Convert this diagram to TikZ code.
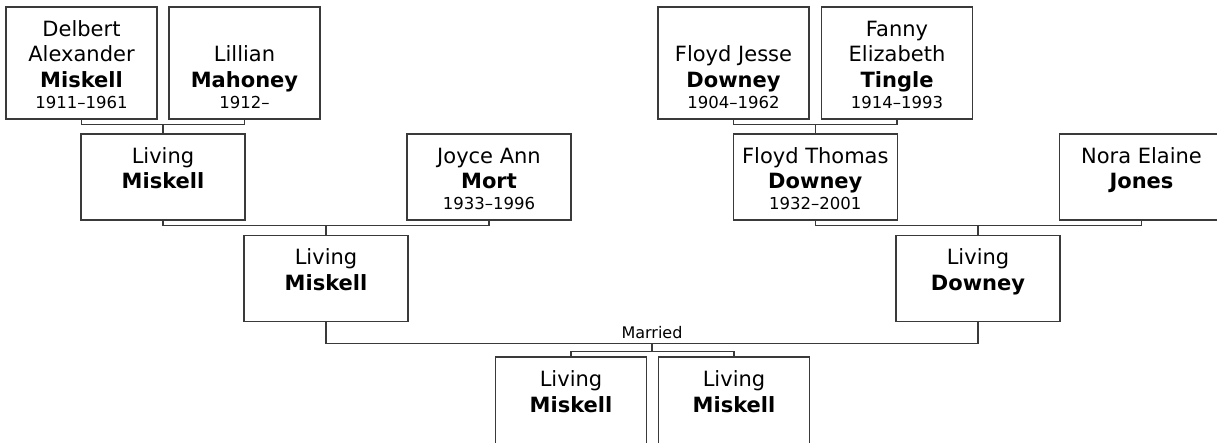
\documentclass[tikz,border=0pt]{standalone}
\usepackage{fontspec}
\setmainfont{DejaVu Sans}
\usetikzlibrary{calc}
\definecolor{cline}{HTML}{3A3A3A}
\newcommand{\yrs}[1]{{\fontsize{16.5}{20}\selectfont #1}}
\newcommand{\pcard}[4][29.5]{\parbox[c][#3pt][t]{#2pt}{\centering\rule{0pt}{#1pt}#4}}
\tikzset{
  every picture/.style={line width=1.3pt},
  person/.style={draw=cline, inner sep=0pt, font=\fontsize{21}{25.5}\selectfont},
  link/.style={draw=cline, line width=1.2pt},
  note/.style={font=\fontsize{16}{19}\selectfont, inner sep=3.5pt, anchor=south},
}
\begin{document}
\begin{tikzpicture}[x=1pt, y=-1pt]
  \clip (0,0) rectangle (1217,443);
  % grandparents
  \node[person] (delbert) at (81.5,63) {\pcard{151}{112}{Delbert\\Alexander\\\textbf{Miskell}\\[-4.5pt]\yrs{1911–1961}}};
  \node[person] (lillian) at (244.5,63) {\pcard[55]{151}{112}{Lillian\\\textbf{Mahoney}\\[-4.5pt]\yrs{1912–}}};
  \node[person] (floydj) at (733.5,63) {\pcard[55]{151}{112}{Floyd Jesse\\\textbf{Downey}\\[-4.5pt]\yrs{1904–1962}}};
  \node[person] (fanny) at (897,63) {\pcard{151}{112}{Fanny\\Elizabeth\\\textbf{Tingle}\\[-4.5pt]\yrs{1914–1993}}};
  % parents
  \node[person] (livm) at (163,177) {\pcard{164}{86}{Living\\\textbf{Miskell}}};
  \node[person] (joyce) at (489,177) {\pcard{164}{86}{Joyce Ann\\\textbf{Mort}\\[-4.5pt]\yrs{1933–1996}}};
  \node[person] (floydt) at (815.3,177) {\pcard{164}{86}{Floyd Thomas\\\textbf{Downey}\\[-4.5pt]\yrs{1932–2001}}};
  \node[person] (nora) at (1141.5,177) {\pcard{164}{86}{Nora Elaine\\\textbf{Jones}}};
  % couple
  \node[person] (livmm) at (326,278.5) {\pcard{164}{86}{Living\\\textbf{Miskell}}};
  \node[person] (livd) at (978,278.5) {\pcard{164}{86}{Living\\\textbf{Downey}}};
  % children
  \node[person] (kid1) at (571,404.5) {\pcard{151}{95}{Living\\\textbf{Miskell}}};
  \node[person] (kid2) at (734,404.5) {\pcard{151}{95}{Living\\\textbf{Miskell}}};
  \foreach \pa/\pb/\kid in {delbert/lillian/livm, floydj/fanny/floydt, livm/joyce/livmm, floydt/nora/livd} {
    \draw[link] (\pa.south) |- ($(\kid.north)+(0,-9)$) -| (\pb.south);
    \draw[link] (\kid.north) -- ++(0,-9);
  }
  \coordinate (wed) at ($(livmm.south)!0.5!(livd.south)+(0,21)$);
  \draw[link] (livmm.south) |- (wed) -| (livd.south);
  \node[note] (married) at (wed) {Married};
  \draw[link] (kid1.north) |- ($(wed)+(0,8.5)$) -| (kid2.north);
  \draw[link] (wed) -- ++(0,8.5);
\end{tikzpicture}
\end{document}
